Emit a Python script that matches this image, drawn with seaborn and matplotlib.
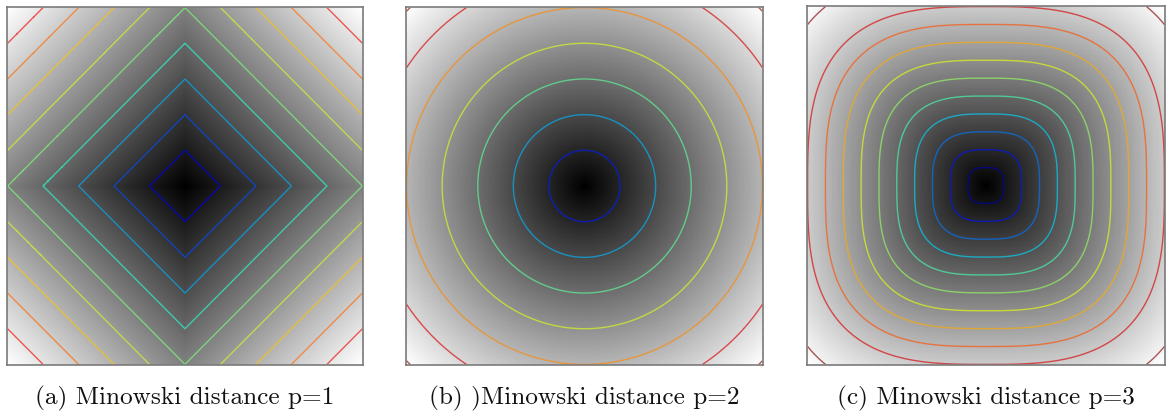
import numpy as np
import matplotlib
matplotlib.use("Agg")
import matplotlib.pyplot as plt
import matplotlib.colors as mcolors
import seaborn as sns

# ---- data ----
p_values = [1, 2, 3]
captions = ["(a) Minowski distance p=1",
            "(b) )Minowski distance p=2",
            "(c) Minowski distance p=3"]
levels_p1 = [0.2, 0.4, 0.6, 0.8, 1.0, 1.2, 1.4, 1.6, 1.8]
levels_p2 = [0.2, 0.4, 0.6, 0.8, 1.0, 1.2, 1.4]
levels_p3 = [0.1, 0.2, 0.3, 0.4, 0.5, 0.6, 0.7, 0.8, 0.9, 1.0, 1.2]
line_norms = [(0.0, 2.0), (0.0, 1.3), (0.05, 1.08)]

sns.set_theme(style="white")
plt.rcParams["font.family"] = ["cmr10", "DejaVu Serif"]
plt.rcParams["axes.formatter.use_mathtext"] = True

n = 301
coords = np.linspace(-1, 1, n)
X, Y = np.meshgrid(coords, coords)

fig = plt.figure(figsize=(11.68, 4.14), dpi=100)
W, H = 1168, 414
boxes = [(7, 8, 356, 358), (406, 8, 357, 358), (807, 7, 358, 359)]
all_levels = [levels_p1, levels_p2, levels_p3]

for p, cap, levels, nrm, (x0, y0, w, h) in zip(p_values, captions, all_levels, line_norms, boxes):
    ax = fig.add_axes([x0 / W, 1 - (y0 + h) / H, w / W, h / H])
    D = (np.abs(X) ** p + np.abs(Y) ** p) ** (1.0 / p)
    sns.heatmap(D, ax=ax, cmap="gray", vmin=0, vmax=D.max(), cbar=False,
                xticklabels=False, yticklabels=False, rasterized=True)
    idx = np.arange(n) + 0.5
    ax.contour(idx, idx, D, levels=levels, cmap="jet",
               norm=mcolors.Normalize(nrm[0], nrm[1]),
               linewidths=1.0, alpha=0.65)
    ax.set_xlim(0, n)
    ax.set_ylim(n, 0)
    ax.set_xticks([])
    ax.set_yticks([])
    for s in ax.spines.values():
        s.set_visible(True)
        s.set_color("#7a7a7a")
        s.set_linewidth(1.2)
    fig.text((x0 + w / 2) / W, 1 - 398 / H, cap, ha="center", va="center",
             fontsize=18.2, color="#111111")

fig.savefig("out.png", dpi=100)
